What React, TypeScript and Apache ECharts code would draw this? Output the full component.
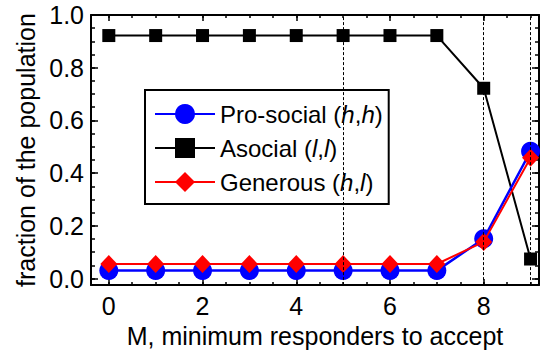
import React, { useEffect, useRef } from "react";
import * as echarts from "echarts";

const xValues = [0, 1, 2, 3, 4, 5, 6, 7, 8, 9];
const proSocial = [0.03, 0.03, 0.03, 0.03, 0.03, 0.03, 0.03, 0.03, 0.151, 0.483];
const asocial = [0.922, 0.922, 0.922, 0.922, 0.922, 0.922, 0.922, 0.922, 0.722, 0.074];
const generous = [0.055, 0.055, 0.055, 0.055, 0.055, 0.055, 0.055, 0.055, 0.139, 0.458];
const dashedX = [5, 8, 9];
const xMajorTicks = [0, 2, 4, 6, 8];
const xMinorTicks = [0, 0.5, 1, 1.5, 2, 2.5, 3, 3.5, 4, 4.5, 5, 5.5, 6, 6.5, 7, 7.5, 8, 8.5, 9];
const yMajorTicks = [0, 0.2, 0.4, 0.6, 0.8, 1.0];
const yMinorTicks = [0, 0.05, 0.1, 0.15, 0.2, 0.25, 0.3, 0.35, 0.4, 0.45, 0.5, 0.55, 0.6, 0.65, 0.7, 0.75, 0.8, 0.85, 0.9, 0.95, 1.0];

const FONT = "Liberation Sans, Arial, Helvetica, sans-serif";
const X_MIN = -0.38;
const X_MAX = 9.18;
const Y_MIN = -0.025;
const Y_MAX = 1.0;

function pairs(vals: number[]) {
  return xValues.map((x, i) => [x, vals[i]]);
}

export default function App() {
  const ref = useRef<HTMLDivElement>(null);
  useEffect(() => {
    if (!ref.current) return;
    document.body.style.margin = "0";
    const chart = echarts.init(ref.current, null, { renderer: "svg" });
    const lineBase = { onZero: false, lineStyle: { color: "#000", width: 2 } };
    const mkX = (pos: string, ticks: number[], len: number, main: boolean) => ({
      type: "value",
      gridIndex: 0,
      position: pos,
      min: X_MIN,
      max: X_MAX,
      axisLine: main ? { show: true, ...lineBase } : { show: false, onZero: false },
      axisTick: { show: true, inside: true, length: len, customValues: ticks, lineStyle: { color: "#000", width: 1.5 } },
      axisLabel: { show: false },
      splitLine: { show: false },
    });
    const mkY = (pos: string, ticks: number[], len: number, main: boolean) => ({
      type: "value",
      gridIndex: 0,
      position: pos,
      min: Y_MIN,
      max: Y_MAX,
      axisLine: main ? { show: true, ...lineBase } : { show: false, onZero: false },
      axisTick: { show: true, inside: true, length: len, customValues: ticks, lineStyle: { color: "#000", width: 1.5 } },
      axisLabel: { show: false },
      splitLine: { show: false },
    });
    const xMain: any = mkX("bottom", xMajorTicks, 6, true);
    xMain.axisLabel = {
      show: true,
      customValues: xMajorTicks,
      fontSize: 25,
      fontFamily: FONT,
      color: "#000",
      margin: 8,
    };
    xMain.name = "M, minimum responders to accept";
    xMain.nameLocation = "middle";
    xMain.nameGap = 30;
    xMain.nameTextStyle = { fontSize: 25, fontFamily: FONT, color: "#000" };
    const yMain: any = mkY("left", yMajorTicks, 7, true);
    yMain.axisLabel = {
      show: true,
      customValues: yMajorTicks,
      fontSize: 25,
      fontFamily: FONT,
      color: "#000",
      margin: 7,
      formatter: (v: number) => v.toFixed(1),
    };
    yMain.name = "fraction of the population";
    yMain.nameLocation = "middle";
    yMain.nameGap = 50;
    yMain.nameTextStyle = { fontSize: 25, fontFamily: FONT, color: "#000" };

    const rich = { i: { fontStyle: "italic", fontSize: 24, fontFamily: FONT, color: "#000" } };
    const option: any = {
      animation: false,
      grid: { left: 91, right: 6, top: 15, bottom: 60, containLabel: false },
      xAxis: [xMain, mkX("bottom", xMinorTicks, 3, false), mkX("top", xMajorTicks, 6, true), mkX("top", xMinorTicks, 3, false)],
      yAxis: [yMain, mkY("left", yMinorTicks, 4, false), mkY("right", yMajorTicks, 7, true), mkY("right", yMinorTicks, 4, false)],
      legend: {
        left: 145,
        top: 90,
        orient: "vertical",
        data: ["Pro-social", "Asocial", "Generous"],
        itemWidth: 60,
        itemHeight: 25,
        itemGap: 10,
        padding: [12, 6, 10, 9],
        borderColor: "#000",
        borderWidth: 2,
        borderRadius: 0,
        backgroundColor: "#fff",
        textStyle: { fontSize: 24, fontFamily: FONT, color: "#000", rich },
        formatter: (name: string) => {
          if (name === "Pro-social") return "Pro-social ({i|h},{i|h})";
          if (name === "Asocial") return "Asocial ({i|l},{i|l})";
          return "Generous ({i|h},{i|l})";
        },
      },
      series: [
        {
          name: "Asocial",
          type: "line",
          data: pairs(asocial),
          symbol: "rect",
          symbolSize: 13,
          lineStyle: { color: "#000", width: 2 },
          itemStyle: { color: "#000" },
          markLine: {
            silent: true,
            symbol: ["none", "none"],
            label: { show: false },
            lineStyle: { color: "#000", width: 1, type: [3, 2] },
            data: dashedX.map((x) => ({ xAxis: x })),
          },
          z: 2,
        },
        {
          name: "Pro-social",
          type: "line",
          data: pairs(proSocial),
          symbol: "circle",
          symbolSize: 19,
          lineStyle: { color: "#0000ff", width: 2.5 },
          itemStyle: { color: "#0000ff" },
          z: 3,
        },
        {
          name: "Generous",
          type: "line",
          data: pairs(generous),
          symbol: "diamond",
          symbolSize: [17, 18],
          lineStyle: { color: "#ff0000", width: 2 },
          itemStyle: { color: "#ff0000" },
          z: 4,
        },
      ],
    };
    chart.setOption(option);
    return () => chart.dispose();
  }, []);
  return <div ref={ref} style={{ width: 545, height: 353 }} />;
}
